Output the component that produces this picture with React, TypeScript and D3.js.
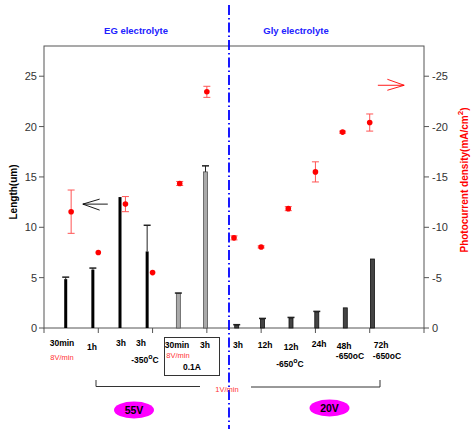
import React from "react";
import * as d3 from "d3";

// ---- data ----
const categories = ["30min", "1h", "3h", "3h", "30min", "3h", "3h", "12h", "12h", "24h", "48h", "72h"];
const groups = ["EG", "EG", "EG", "EG", "EGbox", "EGbox", "Gly", "Gly", "Gly", "Gly", "Gly", "Gly"];
const barPos = [0.8, 1.8, 2.8, 3.8, 4.95, 5.95, 7.1, 8.05, 9.1, 10.05, 11.1, 12.1];
const lengths = [4.85, 5.8, 13.0, 7.6, 3.45, 15.5, 0.3, 0.9, 1.0, 1.6, 2.0, 6.85];
const lengthErr = [0.2, 0.15, 0, 2.6, 0.02, 0.6, 0.03, 0.05, 0.05, 0.05, 0, 0];
const pointPos = [1, 2, 3, 4, 5, 6, 7, 8, 9, 10, 11, 12];
const photo = [11.55, 7.5, 12.3, 5.5, 14.35, 23.45, 8.95, 8.05, 11.85, 15.5, 19.45, 20.4];
const photoErr = [2.15, 0, 0.75, 0, 0.2, 0.55, 0.2, 0.1, 0.2, 1.0, 0.1, 0.85];
const leftTicks = [0, 5, 10, 15, 20, 25];
const rightTickLabels = ["0", "-5", "-10", "-15", "-20", "-25"];
const xTicks = [0, 2, 4, 6, 8, 10, 12, 14];

const W = 473, H = 429;
const M = { left: 44, right: 424, top: 46, bottom: 328 };

const barStyle: Record<string, { fill: string; stroke: string; w: number }> = {
  EG: { fill: "#000", stroke: "#000", w: 3 },
  EGbox: { fill: "#aaa", stroke: "#555", w: 4 },
  Gly: { fill: "#444", stroke: "#111", w: 4 },
};

const labelFont = "'Liberation Sans', Arial, sans-serif";

export default function App() {
  const x = d3.scaleLinear().domain([0, 14]).range([M.left, M.right]);
  const y = d3.scaleLinear().domain([0, 28]).range([M.bottom, M.top]);
  const yR = d3.scaleLinear().domain([0, 28]).range([M.bottom, M.top]);

  const bold = { fontFamily: labelFont, fontWeight: 700 as const, fontSize: 8.5 };

  return (
    <svg width={W} height={H} style={{ position: "absolute", left: 0, top: 0, background: "#fff" }}>
      {/* titles */}
      <text x={136} y={34} textAnchor="middle" fill="#2222ff" style={{ fontFamily: labelFont, fontWeight: 700, fontSize: 9.5 }}>EG electrolyte</text>
      <text x={296} y={34} textAnchor="middle" fill="#2222ff" style={{ fontFamily: labelFont, fontWeight: 700, fontSize: 9.5 }}>Gly electrolyte</text>

      {/* frame */}
      <rect x={M.left} y={M.top} width={M.right - M.left} height={M.bottom - M.top} fill="none" stroke="#555" strokeWidth={1} />

      {/* left axis ticks */}
      {leftTicks.map((t) => (
        <g key={"l" + t}>
          <line x1={M.left - 5} x2={M.left} y1={y(t)} y2={y(t)} stroke="#555" />
          <text x={M.left - 7} y={y(t) + 4} textAnchor="end" fill="#333" style={{ fontFamily: labelFont, fontSize: 11 }}>{t}</text>
        </g>
      ))}
      {/* right axis ticks */}
      {leftTicks.map((t, i) => (
        <g key={"r" + t}>
          <line x1={M.right} x2={M.right + 5} y1={yR(t)} y2={yR(t)} stroke="#555" />
          <text x={M.right + 8} y={yR(t) + 4} textAnchor="start" fill="#333" style={{ fontFamily: labelFont, fontSize: 11 }}>{rightTickLabels[i]}</text>
        </g>
      ))}
      {/* bottom ticks */}
      {xTicks.map((t) => (
        <line key={"x" + t} x1={x(t)} x2={x(t)} y1={M.bottom} y2={M.bottom + 5} stroke="#555" />
      ))}

      {/* axis titles */}
      <text transform={`translate(17,192) rotate(-90)`} textAnchor="middle" fill="#000" style={{ fontFamily: labelFont, fontWeight: 700, fontSize: 10 }}>Length(um)</text>
      <text transform={`translate(468,180) rotate(-90)`} textAnchor="middle" fill="#ff0000" style={{ fontFamily: labelFont, fontWeight: 700, fontSize: 10 }}>
        Photocurrent density(mA/cm<tspan dy={-5} fontSize={8}>2</tspan><tspan dy={5}>)</tspan>
      </text>

      {/* bars */}
      {lengths.map((v, i) => {
        const s = barStyle[groups[i]];
        const cx = x(barPos[i]);
        return (
          <g key={"b" + i}>
            <rect x={cx - s.w / 2} y={y(v)} width={s.w} height={y(0) - y(v)} fill={s.fill} stroke={s.stroke} strokeWidth={groups[i] === "EG" ? 0 : 0.8} />
            {lengthErr[i] > 0 && (
              <g stroke="#222" strokeWidth={1}>
                <line x1={cx} x2={cx} y1={y(v)} y2={y(v + lengthErr[i])} />
                <line x1={cx - 3.5} x2={cx + 3.5} y1={y(v + lengthErr[i])} y2={y(v + lengthErr[i])} strokeWidth={1.5} />
              </g>
            )}
          </g>
        );
      })}

      {/* photocurrent points */}
      {photo.map((v, i) => {
        const cx = x(pointPos[i]);
        const e = photoErr[i];
        return (
          <g key={"p" + i}>
            {e > 0 && (
              <g stroke="#ff5555" strokeWidth={1}>
                <line x1={cx} x2={cx} y1={yR(v - e)} y2={yR(v + e)} />
                <line x1={cx - 3.5} x2={cx + 3.5} y1={yR(v + e)} y2={yR(v + e)} />
                <line x1={cx - 3.5} x2={cx + 3.5} y1={yR(v - e)} y2={yR(v - e)} />
              </g>
            )}
            <circle cx={cx} cy={yR(v)} r={2.8} fill="#ff0000" />
          </g>
        );
      })}

      {/* arrows */}
      <g stroke="#000" strokeWidth={0.9} fill="none">
        <line x1={x(1.43)} x2={x(2.35)} y1={y(12.3)} y2={y(12.3)} />
        <polyline points={`${x(2.05)},${y(12.3) - 5} ${x(1.43)},${y(12.3)} ${x(2.05)},${y(12.3) + 6}`} />
      </g>
      <g stroke="#ff0000" strokeWidth={0.9} fill="none">
        <line x1={x(12.3)} x2={x(13.27)} y1={yR(24.1)} y2={yR(24.1)} />
        <polyline points={`${x(12.65)},${yR(24.1) - 6} ${x(13.27)},${yR(24.1)} ${x(12.65)},${yR(24.1) + 5}`} />
      </g>

      {/* divider */}
      <line x1={229} x2={229} y1={5} y2={H} stroke="#0000ff" strokeWidth={1.8} strokeDasharray="10 3 1.5 3" />

      {/* category labels */}
      <g fill="#000" style={bold}>
        <text x={62} y={346} textAnchor="middle">{categories[0]}</text>
        <text x={92} y={350} textAnchor="middle">{categories[1]}</text>
        <text x={121} y={346} textAnchor="middle">{categories[2]}</text>
        <text x={141} y={346} textAnchor="middle">{categories[3]}</text>
        <text x={145} y={363} textAnchor="middle">-350<tspan dy={-4} fontSize={7}>o</tspan><tspan dy={4}>C</tspan></text>
        <text x={177} y={348} textAnchor="middle">{categories[4]}</text>
        <text x={205} y={348} textAnchor="middle">{categories[5]}</text>
        <text x={192} y={370} textAnchor="middle">0.1A</text>
        <text x={238} y={348} textAnchor="middle">{categories[6]}</text>
        <text x={265} y={348} textAnchor="middle">{categories[7]}</text>
        <text x={291} y={350} textAnchor="middle">{categories[8]}</text>
        <text x={290} y={367} textAnchor="middle">-650<tspan dy={-4} fontSize={7}>o</tspan><tspan dy={4}>C</tspan></text>
        <text x={319} y={347} textAnchor="middle">{categories[9]}</text>
        <text x={344} y={349} textAnchor="middle">{categories[10]}</text>
        <text x={350} y={359} textAnchor="middle">-650oC</text>
        <text x={381} y={348} textAnchor="middle">{categories[11]}</text>
        <text x={387} y={359} textAnchor="middle">-650oC</text>
      </g>
      <g fill="#ff3333" style={{ fontFamily: labelFont, fontSize: 7.5 }}>
        <text x={62} y={360} textAnchor="middle">8V/min</text>
        <text x={178} y={358} textAnchor="middle">8V/min</text>
        <text x={227} y={392} textAnchor="middle">1V/min</text>
      </g>
      <rect x={164.5} y={337.5} width={55} height={38} fill="none" stroke="#333" strokeWidth={1} />

      {/* brackets */}
      <polyline points="96,380 96,386.5 200,386.5" fill="none" stroke="#333" strokeWidth={1} />
      <polyline points="251,387 380,387 380,380" fill="none" stroke="#333" strokeWidth={1} />

      {/* voltage ellipses */}
      <ellipse cx={134} cy={410} rx={20} ry={8.5} fill="#ff00ff" />
      <text x={134} y={414} textAnchor="middle" fill="#000" style={{ fontFamily: labelFont, fontWeight: 700, fontSize: 10.5 }}>55V</text>
      <ellipse cx={329.5} cy={408} rx={20} ry={8.5} fill="#ff00ff" />
      <text x={329.5} y={412} textAnchor="middle" fill="#000" style={{ fontFamily: labelFont, fontWeight: 700, fontSize: 10.5 }}>20V</text>
    </svg>
  );
}
